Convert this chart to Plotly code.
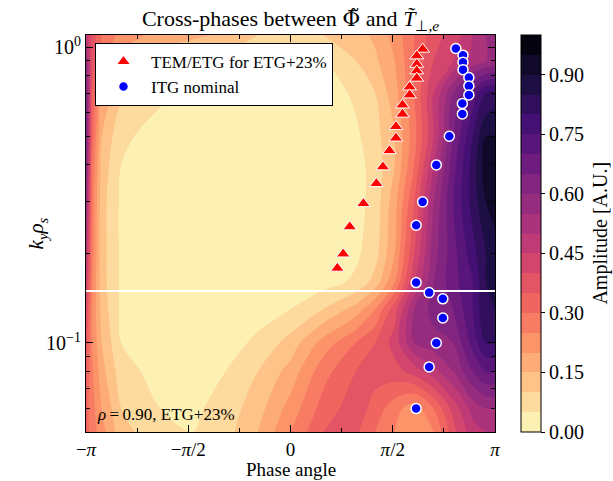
import numpy as np
import plotly.graph_objects as go

# ---------------- data ----------------
phase_grid = [-3.1416, -3.05, -2.9, -2.6, -2.0, -1.5, -1.0, -0.5, 0.0, 0.5, 1.0,
              1.3, 1.6, 1.9, 2.2, 2.5, 2.8, 3.0, 3.1416]
ky_grid = [0.05, 0.06, 0.08, 0.10, 0.13, 0.16, 0.20, 0.30, 0.40, 0.50, 0.70, 0.90, 1.10]
amp_ky005 = [0.32, 0.28, 0.22, 0.12, 0.06, 0.05, 0.08, 0.15, 0.25, 0.35, 0.36, 0.30, 0.25, 0.20, 0.25, 0.38, 0.48, 0.50, 0.50]
amp_ky006 = [0.32, 0.27, 0.20, 0.10, 0.05, 0.04, 0.07, 0.13, 0.22, 0.32, 0.38, 0.33, 0.27, 0.22, 0.30, 0.42, 0.52, 0.55, 0.55]
amp_ky008 = [0.35, 0.26, 0.17, 0.07, 0.03, 0.03, 0.05, 0.10, 0.17, 0.28, 0.35, 0.37, 0.38, 0.42, 0.48, 0.55, 0.65, 0.70, 0.70]
amp_ky010 = [0.37, 0.25, 0.15, 0.05, 0.02, 0.02, 0.03, 0.06, 0.12, 0.22, 0.30, 0.35, 0.42, 0.55, 0.58, 0.60, 0.72, 0.80, 0.80]
amp_ky013 = [0.40, 0.25, 0.13, 0.04, 0.02, 0.02, 0.02, 0.03, 0.05, 0.10, 0.17, 0.25, 0.38, 0.55, 0.62, 0.65, 0.75, 0.85, 0.85]
amp_ky016 = [0.45, 0.26, 0.12, 0.04, 0.02, 0.02, 0.02, 0.02, 0.02, 0.03, 0.06, 0.12, 0.25, 0.45, 0.60, 0.68, 0.75, 0.85, 0.88]
amp_ky020 = [0.50, 0.27, 0.12, 0.04, 0.02, 0.02, 0.02, 0.02, 0.02, 0.02, 0.04, 0.08, 0.20, 0.40, 0.58, 0.68, 0.78, 0.85, 0.88]
amp_ky030 = [0.58, 0.28, 0.12, 0.04, 0.02, 0.02, 0.02, 0.02, 0.02, 0.02, 0.03, 0.07, 0.18, 0.35, 0.55, 0.70, 0.82, 0.90, 0.92]
amp_ky040 = [0.62, 0.30, 0.13, 0.05, 0.02, 0.02, 0.02, 0.02, 0.02, 0.02, 0.03, 0.07, 0.15, 0.30, 0.50, 0.68, 0.82, 0.93, 0.95]
amp_ky050 = [0.65, 0.32, 0.15, 0.06, 0.03, 0.02, 0.02, 0.02, 0.02, 0.02, 0.04, 0.08, 0.15, 0.28, 0.45, 0.65, 0.80, 0.90, 0.90]
amp_ky070 = [0.65, 0.35, 0.20, 0.11, 0.06, 0.04, 0.03, 0.02, 0.02, 0.02, 0.06, 0.10, 0.18, 0.30, 0.45, 0.60, 0.72, 0.80, 0.82]
amp_ky090 = [0.58, 0.38, 0.26, 0.18, 0.12, 0.10, 0.08, 0.06, 0.04, 0.05, 0.10, 0.14, 0.20, 0.30, 0.40, 0.45, 0.52, 0.55, 0.55]
amp_ky110 = [0.48, 0.38, 0.30, 0.23, 0.18, 0.16, 0.14, 0.10, 0.08, 0.10, 0.13, 0.16, 0.22, 0.30, 0.38, 0.42, 0.50, 0.55, 0.55]
amplitude = [amp_ky005, amp_ky006, amp_ky008, amp_ky010, amp_ky013, amp_ky016, amp_ky020,
             amp_ky030, amp_ky040, amp_ky050, amp_ky070, amp_ky090, amp_ky110]

tem_phase = [2.03, 1.94, 1.94, 1.94, 1.94, 1.83, 1.83, 1.72, 1.72, 1.62, 1.62, 1.52,
             1.42, 1.32, 1.12, 0.91, 0.81, 0.72]
tem_ky = [0.985, 0.935, 0.876, 0.832, 0.786, 0.734, 0.69, 0.638, 0.594, 0.539, 0.493,
          0.447, 0.394, 0.346, 0.296, 0.247, 0.20, 0.179]

itg_phase = [2.54, 2.65, 2.65, 2.65, 2.74, 2.74, 2.74, 2.64, 2.64, 2.44, 2.24, 2.03,
             1.93, 1.93, 2.13, 2.34, 2.34, 2.24, 2.13, 1.93]
itg_ky = [0.99, 0.94, 0.89, 0.84, 0.79, 0.74, 0.69, 0.645, 0.595, 0.50, 0.40, 0.30,
          0.25, 0.16, 0.148, 0.141, 0.1215, 0.10, 0.083, 0.06]

ky_separator = 0.15
x_tick_vals = [-np.pi, -np.pi / 2, 0, np.pi / 2, np.pi]
x_tick_text = ["\u2212<i>π</i>", "\u2212<i>π</i>/2", "0", "<i>π</i>/2", "<i>π</i>"]
cbar_ticks = [0.0, 0.15, 0.30, 0.45, 0.60, 0.75, 0.90]

# ---------------- colormap (magma reversed) ----------------
magma = ['#000004', '#180f3d', '#440f76', '#721f81', '#9e2f7f',
         '#cd4071', '#f1605d', '#fd9668', '#feca8d', '#fcfdbf']
mrgb = np.array([[int(c[i:i + 2], 16) for i in (1, 3, 5)] for c in magma], float)
mpos = np.linspace(0, 1, len(magma))


def magma_r(v):
    v = 1 - v
    return 'rgb(%d,%d,%d)' % tuple(np.interp(v, mpos, mrgb[:, k]) for k in range(3))


cscale = [[p, magma_r(0.025 + 0.95 * p)] for p in np.linspace(0, 1, 21)]

FONT = "Liberation Serif"
fig = go.Figure()

fig.add_trace(go.Contour(
    x=phase_grid, y=ky_grid, z=amplitude,
    colorscale=cscale,
    contours=dict(start=0.05, end=0.95, size=0.05, coloring='fill', showlines=False),
    line=dict(width=0, smoothing=1.0),
    zmin=0, zmax=1,
    colorbar=dict(
        x=1.0636, xanchor='left', xpad=0, thickness=20, thicknessmode='pixels',
        len=1, lenmode='fraction', y=0.5, yanchor='middle', ypad=0,
        outlinecolor='black', outlinewidth=1,
        tickvals=cbar_ticks, ticktext=['%.2f' % t for t in cbar_ticks],
        ticks='outside', ticklen=4, tickcolor='black',
        tickfont=dict(family=FONT, size=20, color='black'),
    ),
    showlegend=False, hoverinfo='skip',
))

fig.add_trace(go.Scatter(
    x=[-np.pi, np.pi], y=[ky_separator, ky_separator], mode='lines',
    line=dict(color='white', width=2), showlegend=False, hoverinfo='skip'))

fig.add_trace(go.Scatter(
    x=tem_phase, y=tem_ky, mode='markers', name='TEM/ETG for ETG+23%',
    marker=dict(symbol='triangle-up', size=12, color='#ff0000',
                line=dict(color='white', width=1))))

fig.add_trace(go.Scatter(
    x=itg_phase, y=itg_ky, mode='markers', name='ITG nominal',
    marker=dict(symbol='circle', size=10, color='#0000ff',
                line=dict(color='white', width=1.5))))

axis_common = dict(showline=True, linecolor='black', linewidth=1, mirror='ticks',
                   ticks='inside', ticklen=7, tickcolor='black', tickwidth=1,
                   showgrid=False, zeroline=False)

fig.update_xaxes(range=[-np.pi, np.pi], tickvals=x_tick_vals, ticktext=x_tick_text,
                 tickfont=dict(family=FONT, size=19, color='black'),
                 minor=dict(tickvals=[-3 * np.pi / 4, -np.pi / 4, np.pi / 4, 3 * np.pi / 4],
                            ticks='inside', ticklen=4, tickcolor='black'),
                 **axis_common)
fig.update_yaxes(type='log', range=[np.log10(0.05), np.log10(1.1)],
                 tickvals=[0.1, 1.0], ticktext=['10<sup>\u22121</sup>', '10<sup>0</sup>'],
                 tickfont=dict(family=FONT, size=20, color='black'),
                 minor=dict(tickvals=[0.05, 0.06, 0.07, 0.08, 0.09, 0.2, 0.3, 0.4, 0.5,
                                      0.6, 0.7, 0.8, 0.9],
                            ticks='inside', ticklen=4, tickcolor='black'),
                 **axis_common)

title_txt = ("Cross-phases between <span style=\"font-family:'DejaVu Serif'\">Φ\u0303</span>"
             " and <i>T\u0303</i><sub>⊥,<i>e</i></sub>")

fig.update_layout(
    width=613, height=481, autosize=False,
    margin=dict(l=86, r=118, t=35, b=49),
    paper_bgcolor='white', plot_bgcolor='white',
    font=dict(family=FONT, color='black'),
    title=dict(text=title_txt,
               x=0.5, xref='paper', xanchor='center', y=0.962, yref='container',
               yanchor='middle', font=dict(family=FONT, size=22, color='black')),
    legend=dict(x=0.022, y=0.98, xanchor='left', yanchor='top', bgcolor='white',
                bordercolor='black', borderwidth=1, itemwidth=45,
                font=dict(family=FONT, size=17, color='black'),
                tracegroupgap=0),
    annotations=[
        dict(text='<i>k<sub>y</sub>ρ<sub>s</sub></i>', x=-0.12, y=0.5, xref='paper',
             yref='paper', textangle=-90, showarrow=False, xanchor='center',
             yanchor='middle', font=dict(family=FONT, size=21)),
        dict(text='Phase angle', x=0.5, y=-0.0935, xref='paper', yref='paper',
             showarrow=False, xanchor='center', yanchor='middle',
             font=dict(family=FONT, size=19)),
        dict(text='Amplitude [A.U.]', x=1.257, y=0.5, xref='paper', yref='paper',
             textangle=-90, showarrow=False, xanchor='center', yanchor='middle',
             font=dict(family=FONT, size=20)),
        dict(text='<i>ρ</i>\u2009=\u20090.90, ETG+23%', x=0.022, y=0.043, xref='paper',
             yref='paper', showarrow=False, xanchor='left', yanchor='middle',
             font=dict(family=FONT, size=17)),
    ],
)

fig.write_html("out.html")
